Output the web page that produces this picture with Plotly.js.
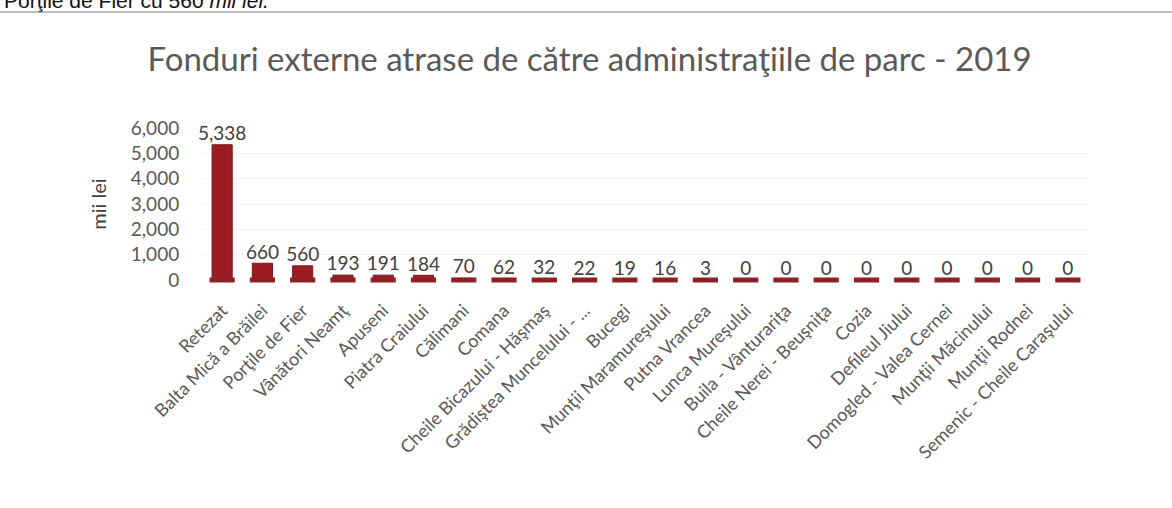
<!DOCTYPE html>
<html>
<head>
<meta charset="utf-8">
<script src="https://cdn.plot.ly/plotly-3.0.1.min.js"></script>
<style>
  body { margin: 0; background: #fff; }
  #chart { width: 1172px; height: 508px; }
</style>
</head>
<body>
<div id="chart"></div>
<script>
// Parks and external funds attracted in 2019 (thousand lei)
var parks = [
  "Retezat", "Balta Mică a Brăilei", "Porţile de Fier", "Vânători Neamţ",
  "Apuseni", "Piatra Craiului", "Călimani", "Comana",
  "Cheile Bicazului - Hăşmaş", "Grădiştea Muncelului - ...", "Bucegi",
  "Munţii Maramureşului", "Putna Vrancea", "Lunca Mureşului",
  "Buila - Vânturariţa", "Cheile Nerei - Beuşniţa", "Cozia", "Defileul Jiului",
  "Domogled - Valea Cernei", "Munţii Măcinului", "Munţii Rodnei",
  "Semenic - Cheile Caraşului"
];
var funds = [5338, 660, 560, 193, 191, 184, 70, 62, 32, 22, 19, 16, 3, 0, 0, 0, 0, 0, 0, 0, 0, 0];

var yTicks = [0, 1000, 2000, 3000, 4000, 5000, 6000];
var yTickText = yTicks.map(v => v.toLocaleString("en-US"));

var barColor = "#9c1c23";
var font = "Lato, 'Open Sans', sans-serif";

var bars = {
  type: "bar",
  x: parks,
  y: funds,
  width: 0.5,
  marker: {color: barColor, line: {color: "#7a1519", width: 1}},
  hoverinfo: "x+y"
};

// flat slab under each bar, like the 3D floor of the original
var slabs = {
  type: "scatter",
  mode: "markers",
  x: parks,
  y: parks.map(() => 0),
  marker: {symbol: "line-ew", size: 18, line: {color: "#8e2128", width: 5}},
  cliponaxis: false,
  hoverinfo: "skip"
};

var labels = {
  type: "scatter",
  mode: "text",
  x: parks,
  y: funds,
  text: funds.map(v => v.toLocaleString("en-US")),
  textposition: "top center",
  textfont: {family: font, size: 19, color: "#404040"},
  marker: {size: 36, opacity: 0},
  cliponaxis: false,
  hoverinfo: "skip"
};

var layout = {
  width: 1172,
  height: 508,
  margin: {l: 202, r: 84, t: 128, b: 228},
  paper_bgcolor: "#fff",
  plot_bgcolor: "#fff",
  showlegend: false,
  font: {family: font, color: "#595959"},
  title: {
    text: "Fonduri externe atrase de către administraţiile de parc - 2019",
    font: {family: font, size: 33, color: "#595959"},
    x: 0.503, xanchor: "center",
    yref: "container", y: 0.882, yanchor: "middle"
  },
  xaxis: {
    type: "category",
    range: [-0.5, parks.length - 0.5],
    automargin: false,
    tickangle: -45,
    tickfont: {family: font, size: 18, color: "#595959"},
    ticks: "outside", ticklen: 12, tickcolor: "rgba(0,0,0,0)",
    showgrid: false, zeroline: false, showline: false
  },
  yaxis: {
    automargin: false,
    range: [0, 6000],
    tickvals: yTicks,
    ticktext: yTickText,
    tickfont: {family: font, size: 19, color: "#595959"},
    ticks: "outside", ticklen: 18, tickcolor: "rgba(0,0,0,0)",
    gridcolor: "#f3f3f3",
    zeroline: false, showline: false,
    title: {text: "mii lei", font: {family: font, size: 20, color: "#404040"}, standoff: 18}
  },
  shapes: [{
    type: "line", xref: "paper", yref: "paper",
    x0: -0.23, x1: 1.1, y0: 1.763, y1: 1.763,
    line: {color: "#7f7f7f", width: 1}
  }],
  annotations: [{
    text: "Porţile de Fier cu 560 <i>mii lei.</i>",
    xref: "paper", yref: "paper",
    x: -0.226, xanchor: "left",
    y: 1.763, yanchor: "bottom", yshift: -2,
    showarrow: false,
    font: {family: "'Liberation Sans', Arial, sans-serif", size: 21, color: "#111"}
  }]
};

Plotly.newPlot("chart", [bars, slabs, labels], layout, {displayModeBar: false});
</script>
</body>
</html>
